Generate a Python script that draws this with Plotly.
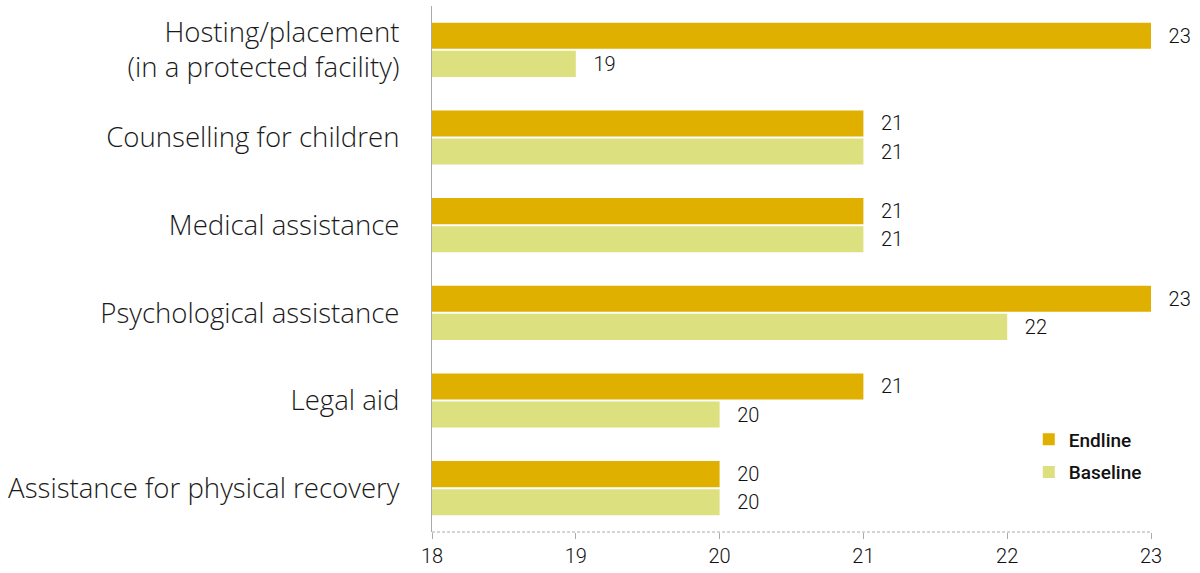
import plotly.graph_objects as go

categories = [
    "Hosting/placement<br>(in a protected facility)",
    "Counselling for children",
    "Medical assistance",
    "Psychological assistance",
    "Legal aid",
    "Assistance for physical recovery",
]
endline = [23, 21, 21, 23, 21, 20]
baseline = [19, 21, 21, 22, 20, 20]
x_ticks = [18, 19, 20, 21, 22, 23]

ENDLINE_COLOR = "#DFB000"
BASELINE_COLOR = "#DCE07E"
NUM_FONT = dict(family="Roboto", size=20, color="#111111", weight=300)
PAD = "\u00a0\u00a0\u00a0"

fig = go.Figure()
fig.add_trace(go.Bar(
    name="Baseline", y=categories, x=baseline, orientation="h",
    marker=dict(color=BASELINE_COLOR, line=dict(width=0)),
    texttemplate=PAD + "%{x}", textposition="outside", textfont=NUM_FONT,
    cliponaxis=False, legendgroup="b", legendrank=2,
))
fig.add_trace(go.Bar(
    name="Endline", y=categories, x=endline, orientation="h",
    marker=dict(color=ENDLINE_COLOR, line=dict(width=0)),
    texttemplate=PAD + "%{x}", textposition="outside", textfont=NUM_FONT,
    cliponaxis=False, legendgroup="e", legendrank=1,
))

fig.update_layout(
    width=1200, height=573,
    margin=dict(l=432, r=49, t=6, b=41),
    plot_bgcolor="white", paper_bgcolor="white",
    barmode="group", bargap=0.36, bargroupgap=0.07,
    legend=dict(
        x=0.83, y=0.212, xanchor="left", yanchor="top",
        traceorder="grouped",
        font=dict(family="Roboto", size=19, color="#111111", weight=500),
        itemwidth=30, tracegroupgap=5,
    ),
    xaxis=dict(
        range=[18, 23], tickvals=x_ticks, ticktext=[str(v) for v in x_ticks],
        showgrid=False, zeroline=False, showline=False,
        ticks="outside", ticklen=6, tickcolor="#aaaaaa", tickwidth=1,
        tickfont=NUM_FONT,
    ),
    yaxis=dict(
        categoryorder="array", categoryarray=categories[::-1],
        showgrid=False, zeroline=False,
        showline=True, linecolor="#aaaaaa", linewidth=1,
        ticks="", ticklabelstandoff=26,
        tickfont=dict(family="Open Sans", size=27.6, color="#1a1a1a", weight=300),
    ),
)

# dashed baseline along the value axis
fig.add_shape(
    type="line", xref="paper", yref="paper", x0=0, x1=1, y0=0, y1=0,
    line=dict(color="#aaaaaa", width=1, dash="3px,2px"),
)

fig.write_html("out.html")
